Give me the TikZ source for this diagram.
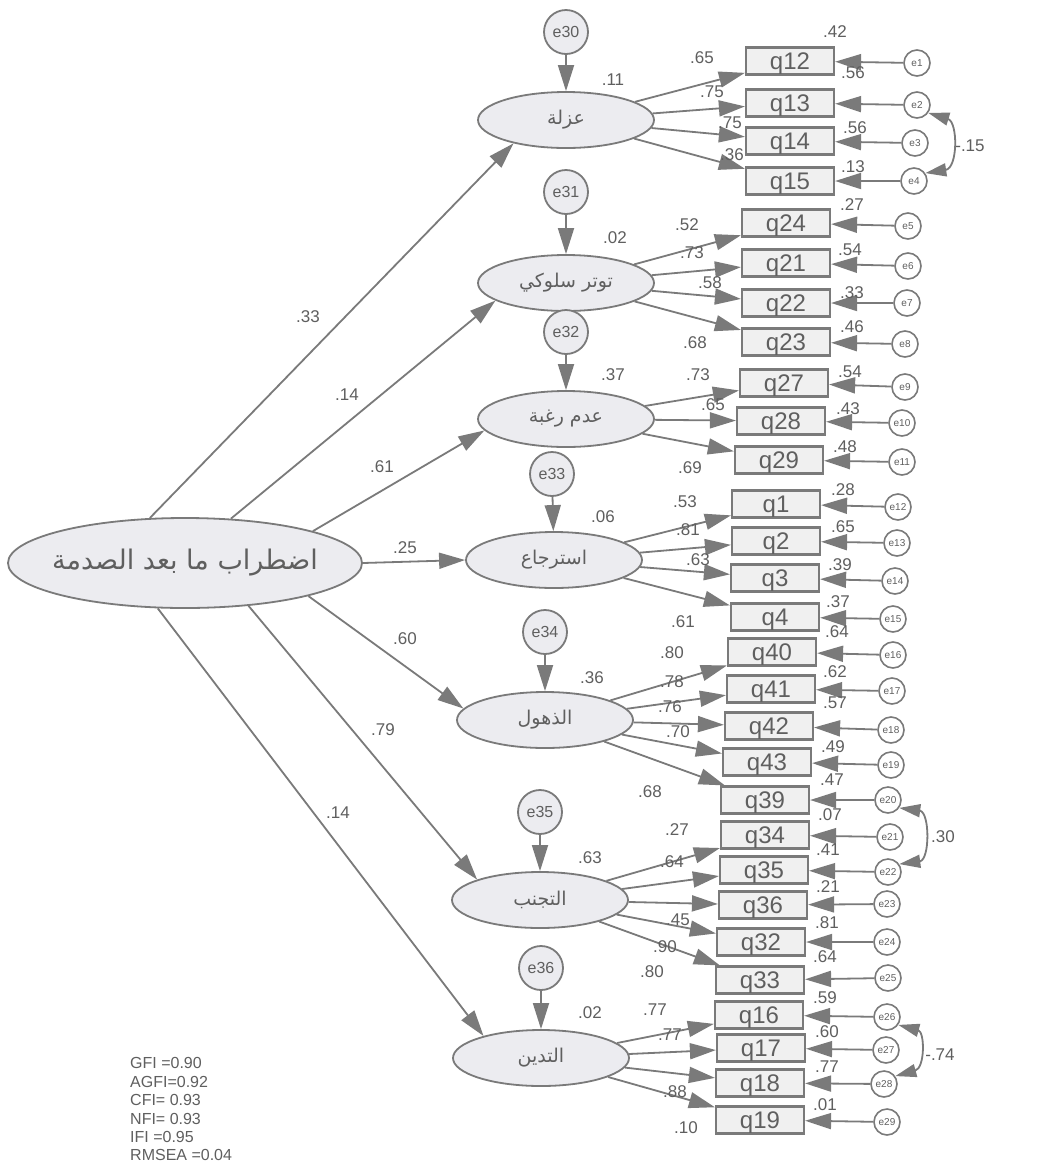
\documentclass[tikz,border=0pt]{standalone}
\usepackage{fontspec}
\setmainfont{Liberation Sans}
\newfontfamily\arabicfont[Script=Arabic]{DejaVu Sans}
\TeXXeTstate=1
\usetikzlibrary{shapes.geometric,arrows.meta}
\definecolor{linec}{RGB}{122,122,122}
\definecolor{txtc}{RGB}{95,95,95}
\definecolor{ellc}{RGB}{236,236,240}
\definecolor{boxc}{RGB}{240,240,240}
\tikzset{
  lat/.style={ellipse, draw=linec, fill=ellc, line width=1.8pt, minimum width=176pt, minimum height=56pt, inner sep=0pt, text=txtc, font=\arabicfont\fontsize{19}{19}\selectfont},
  obs/.style={rectangle, draw=linec, fill=boxc, line width=2.2pt, minimum width=88pt, minimum height=27pt, inner sep=0pt, text depth=0pt, text=txtc, font=\fontsize{24}{24}\selectfont},
  err/.style={circle, draw=linec, fill=white, line width=1.6pt, minimum size=26pt, inner sep=0pt, text=txtc, font=\fontsize{10}{10}\selectfont},
  bigerr/.style={circle, draw=linec, fill=ellc, line width=1.8pt, minimum size=44pt, inner sep=0pt, text=txtc, font=\fontsize{16}{16}\selectfont},
  arr/.style={draw=linec, line width=1.8pt, -{Triangle[length=26pt,width=16pt]}},
  cov/.style={draw=linec, line width=1.8pt, {Triangle[length=21pt,width=13pt]}-{Triangle[length=21pt,width=13pt]}},
  lab/.style={text=txtc, inner sep=0pt, font=\fontsize{17}{17}\selectfont},
  fit/.style={text=txtc, inner sep=0pt, anchor=base west, font=\fontsize{16}{16}\selectfont}
}
\begin{document}
\begin{tikzpicture}[x=1pt,y=-1pt]
\useasboundingbox (0,0) rectangle (1055,1163);
\fill[white] (0,0) rectangle (1055,1163);

% main latent
\node[lat, minimum width=354pt, minimum height=90pt] (M) at (185,563) {};
\node[text=txtc, inner sep=0pt, font=\arabicfont\fontsize{27}{27}\selectfont] (Mt) at (M.center) {\beginR اضطراب ما بعد الصدمة\endR};

% factors
\node[lat] (F1) at (566,120) {\beginR عزلة\endR};
\node[lat] (F2) at (566,283) {\beginR توتر سلوكي\endR};
\node[lat] (F3) at (566,419) {\beginR عدم رغبة\endR};
\node[lat] (F4) at (554,560) {\beginR استرجاع\endR};
\node[lat] (F5) at (545,720) {\beginR الذهول\endR};
\node[lat] (F6) at (540,900) {\beginR التجنب\endR};
\node[lat] (F7) at (541,1058) {\beginR التدين\endR};

% factor disturbances
\foreach \n/\x/\y/\f in {e30/566/32/F1, e31/566/192/F2, e32/566/332/F3, e33/552/474/F4, e34/545/632/F5, e35/540/812/F6, e36/541/968/F7}{
  \node[bigerr] (\n) at (\x,\y) {\n};
  \draw[arr] (\n) -- (\f);
}

% observed boxes
\foreach \n/\x/\y in {q12/790/61, q13/790/103, q14/790/141, q15/790/181,
  q24/786/223, q21/786/263, q22/786/303, q23/786/342,
  q27/784/383, q28/781/421, q29/779/460,
  q1/776/504, q2/776/541, q3/775/578, q4/775/617,
  q40/772/652, q41/771/689, q42/769/726, q43/767/762, q39/765/800,
  q34/765/835, q35/764/870, q36/763/905, q32/761/942, q33/760/980,
  q16/759/1015, q17/761/1048, q18/760/1083, q19/760/1120}{
  \node[obs] (\n) at (\x,\y) {\n};
}

% error circles
\foreach \i/\x/\y in {1/917/63, 2/917/105, 3/915/143, 4/914/181, 5/908/226, 6/908/266, 7/907/303, 8/905/344,
  9/905/387, 10/902/423, 11/902/462, 12/898/507, 13/897/543, 14/895/581, 15/893/619, 16/893/655,
  17/892/691, 18/891/730, 19/891/765, 20/888/800, 21/890/837, 22/888/872, 23/887/904, 24/887/942,
  25/888/978, 26/887/1017, 27/886/1050, 28/884/1084, 29/887/1122}{
  \node[err] (e\i) at (\x,\y) {e\i};
}

% error -> item
\foreach \i/\q in {1/q12, 2/q13, 3/q14, 4/q15, 5/q24, 6/q21, 7/q22, 8/q23, 9/q27, 10/q28, 11/q29,
  12/q1, 13/q2, 14/q3, 15/q4, 16/q40, 17/q41, 18/q42, 19/q43, 20/q39, 21/q34, 22/q35, 23/q36,
  24/q32, 25/q33, 26/q16, 27/q17, 28/q18, 29/q19}{
  \draw[arr] (e\i) -- (\q);
}

% factor -> item
\foreach \f/\q in {F1/q12, F1/q13, F1/q14, F1/q15, F2/q24, F2/q21, F2/q22, F2/q23,
  F3/q27, F3/q28, F3/q29, F4/q1, F4/q2, F4/q3, F4/q4,
  F5/q40, F5/q41, F5/q42, F5/q43, F5/q39, F6/q34, F6/q35, F6/q36, F6/q32, F6/q33,
  F7/q16, F7/q17, F7/q18, F7/q19}{
  \draw[arr] (\f) -- (\q);
}

% second order paths
\draw[arr] (M.128) -- (F1.204);
\draw[arr] (M.44) -- (F2.194);
\draw[arr] (M.14) -- (F3.188);
\draw[arr] (M.east) -- (F4.west);
\draw[arr] (M.-15) -- (F5.172);
\draw[arr] (M.-34) -- (F6.162);
\draw[arr] (M.-121) -- (F7.159);

% covariances
\draw[cov] (e2.-35) .. controls (958,122) and (958,168) .. (e4.35);
\draw[cov] (e20.-35) .. controls (930,812) and (930,860) .. (e22.35);
\draw[cov] (e26.-35) .. controls (925,1032) and (925,1068) .. (e28.35);

% labels
\foreach \t/\x/\y [count=\k] in {
  .33/308/317, .14/347/395, .61/382/467, .25/405/548, .60/405/639, .79/383/730, .14/338/813,
  .11/613/80, .02/615/238, .37/613/375, .06/603/517, .36/592/678, .63/590/858, .02/590/1013,
  .65/702/58, .75/712/92, .75/730/123, .36/732/155,
  .52/687/225, .73/692/253, .58/710/283, .68/695/343,
  .73/698/375, .65/713/405, .69/690/468,
  .53/685/502, .81/688/530, .63/698/560, .61/683/622,
  .80/672/653, .78/672/682, .76/670/707, .70/678/732, .68/650/792,
  .27/677/830, .64/672/862, .45/678/920, .90/665/947, .80/652/972,
  .77/655/1010, .77/670/1035, .88/675/1092, .10/686/1128,
  .42/835/32, .56/853/73, .56/855/128, .13/853/167,
  .27/852/205, .54/850/250, .33/852/293, .46/852/327,
  .54/850/372, .43/848/409, .48/845/447,
  .28/843/490, .65/843/527, .39/840/565, .37/838/602,
  .64/837/632, .62/835/672, .57/835/703, .49/833/747, .47/832/780,
  .07/830/815, .41/828/850, .21/828/887, .81/827/923, .64/825/957,
  .59/825/998, .60/827/1032, .77/827/1067, .01/825/1105,
  -.15/970/146, .30/943/837, -.74/940/1055}{
  \node[lab] (L\k) at (\x,\y) {\t};
}

% fit indices
\node[fit] (g1) at (130,1068) {GFI =0.90};
\node[fit] (g2) at (130,1087) {AGFI=0.92};
\node[fit] (g3) at (130,1105) {CFI= 0.93};
\node[fit] (g4) at (130,1124) {NFI= 0.93};
\node[fit] (g5) at (130,1142) {IFI =0.95};
\node[fit] (g6) at (130,1160) {RMSEA =0.04};
\end{tikzpicture}
\end{document}
